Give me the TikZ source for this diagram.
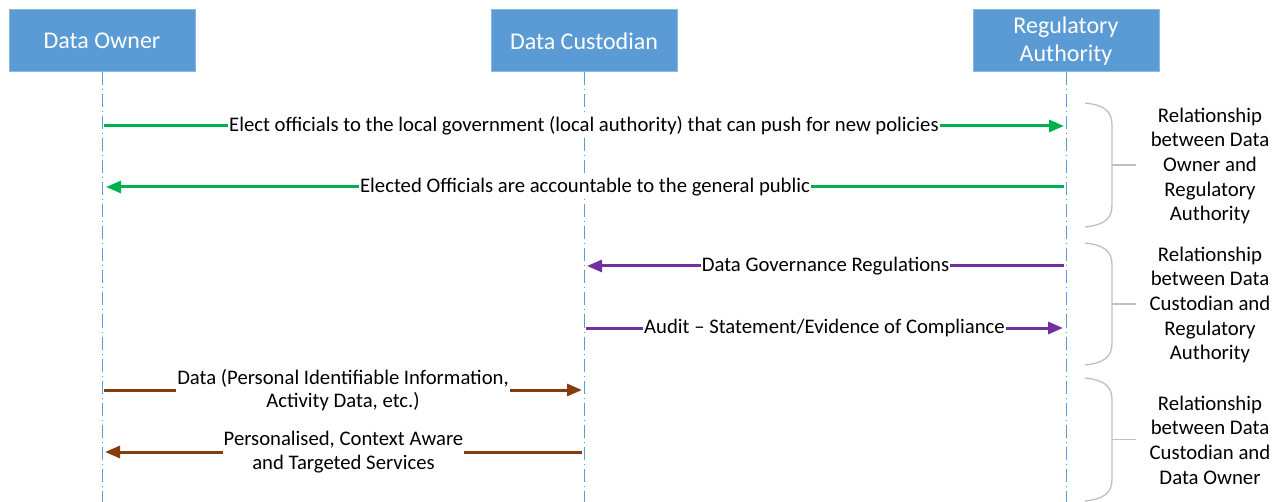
\documentclass[tikz,border=0pt]{standalone}
\usepackage{fontspec}
\setmainfont{Carlito}
\usetikzlibrary{positioning}
\usetikzlibrary{arrows.meta}
\usetikzlibrary{calc}
\definecolor{boxblue}{HTML}{5B9BD5}
\definecolor{lifeblue}{HTML}{5B9BD5}
\definecolor{msggreen}{HTML}{00B050}
\definecolor{msgpurple}{HTML}{7030A0}
\definecolor{msgbrown}{HTML}{843C0C}
\definecolor{bracegray}{HTML}{BFBFBF}
\begin{document}
\begin{tikzpicture}[x=1pt,y=-1pt]
\tikzset{actor/.style={rectangle,minimum width=186pt,minimum height=62pt, fill=boxblue, draw=boxblue!70!white, line width=1pt, text=white, align=center, font=\fontsize{24}{28}\selectfont}}
\tikzset{lifeline/.style={lifeblue, line width=1pt, dash pattern=on 13pt off 4pt on 1pt off 4pt}}
\tikzset{msg/.style={line width=3pt, -{Triangle[length=15pt,width=12pt]}}}
\tikzset{msglabel/.style={fill=white, inner sep=1pt, text=black, align=center, font=\fontsize{20.7}{23.5}\selectfont}}
\tikzset{relbrace/.style={bracegray, line width=1.3pt}}
\tikzset{reltext/.style={align=center, font=\fontsize{20.8}{24.7}\selectfont}}
\useasboundingbox (0,0) rectangle (1281,502);
% actors
\node[actor] (owner) at (102,41) {Data Owner};
\node[actor, right=295pt of owner] (custodian) {Data Custodian};
\node[actor, right=295pt of custodian] (authority) {Regulatory\\Authority};
% lifeline ends
\coordinate (ownerend) at (owner.south |- 0,502);
\coordinate (custodianend) at (custodian.south |- 0,502);
\coordinate (authorityend) at (authority.south |- 0,502);
\draw[lifeline] (owner.south) -- (ownerend);
\draw[lifeline] (custodian.south) -- (custodianend);
\draw[lifeline] (authority.south) -- (authorityend);
% message points
\coordinate (o1) at ($(owner.south |- 0,126)+(2,0)$);
\coordinate (a1) at ($(authority.south |- 0,126)+(-2,0)$);
\coordinate (o2) at ($(owner.south |- 0,187)+(4,0)$);
\coordinate (a2) at ($(authority.south |- 0,187)+(-2,0)$);
\coordinate (c3) at ($(custodian.south |- 0,266)+(3,0)$);
\coordinate (a3) at ($(authority.south |- 0,266)+(-2,0)$);
\coordinate (c4) at ($(custodian.south |- 0,328)+(2,0)$);
\coordinate (a4) at ($(authority.south |- 0,328)+(-3,0)$);
\coordinate (o5) at ($(owner.south |- 0,390)+(2,0)$);
\coordinate (c5) at ($(custodian.south |- 0,390)+(-2,0)$);
\coordinate (o6) at ($(owner.south |- 0,452)+(3,0)$);
\coordinate (c6) at ($(custodian.south |- 0,452)+(-2,0)$);
% messages
\draw[msg, msggreen] (o1) -- node[msglabel] (m1) {Elect officials to the local government (local authority) that can push for new policies} (a1);
\draw[msg, msggreen] (a2) -- node[msglabel] (m2) {Elected Officials are accountable to the general public} (o2);
\draw[msg, msgpurple] (a3) -- node[msglabel] (m3) {Data Governance Regulations} (c3);
\draw[msg, msgpurple] (c4) -- node[msglabel] (m4) {Audit – Statement/Evidence of Compliance} (a4);
\draw[msg, msgbrown] (o5) -- node[msglabel] (m5) {Data (Personal Identifiable Information,\\Activity Data, etc.)} (c5);
\draw[msg, msgbrown] (c6) -- node[msglabel] (m6) {Personalised, Context Aware\\and Targeted Services} (o6);
% relationship braces
\foreach \top/\bot in {103/227, 243/365, 378/501}{
  \draw[relbrace] (1085,\top) .. controls (1104,\top+2) and (1112,\top+8) .. (1112,\top+22)
    -- (1112,\bot-22) .. controls (1112,\bot-8) and (1104,\bot-2) .. (1085,\bot);
  \draw[relbrace] (1112,{(\top+\bot)/2}) -- (1136,{(\top+\bot)/2});
}
\node[reltext] (rel1) at (1210,166) {Relationship\\between Data\\Owner and\\Regulatory\\Authority};
\node[reltext] (rel2) at (1210,305) {Relationship\\between Data\\Custodian and\\Regulatory\\Authority};
\node[reltext] (rel3) at (1210,440) {Relationship\\between Data\\Custodian and\\Data Owner};
\end{tikzpicture}
\end{document}
